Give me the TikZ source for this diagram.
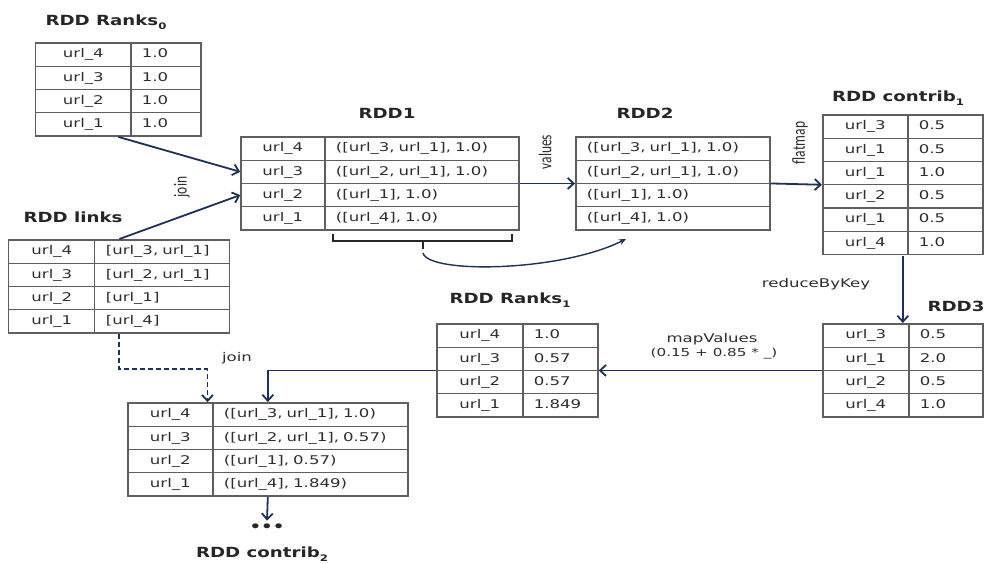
\documentclass[tikz,border=0pt]{standalone}
\usepackage{fontspec}
\setmainfont{DejaVu Sans}
\newfontfamily\cellfont[FakeStretch=1.38]{DejaVu Sans}
\newfontfamily\titlefont[FakeStretch=1.3]{DejaVu Sans}
\newfontfamily\oplabelfont{Carlito}
\usetikzlibrary{matrix,arrows.meta}
\definecolor{arrowblue}{RGB}{33,48,78}
\definecolor{gridgray}{RGB}{95,95,95}
\definecolor{celltext}{RGB}{45,45,45}
\newcommand{\rddsub}[1]{\raisebox{-0.5ex}{\fontsize{9}{9}\selectfont #1}}

\begin{document}
\begin{tikzpicture}[x=1pt, y=-1pt,
    rddcell/.style={draw=gridgray, line width=1.3pt, inner ysep=0pt,
        minimum height=23.3pt, text height=9.5pt, text depth=3pt,
        font=\cellfont\fontsize{12}{14}\selectfont, text=celltext},
    keycol/.style={nodes={text width=#1, align=center, inner xsep=0pt}},
    valcol/.style={nodes={text width=#1, align=left, inner xsep=11pt}},
    tbl/.style={matrix of nodes, nodes={rddcell}, inner sep=0pt,
        anchor=north west, row sep=-1.3pt, column sep=-1.3pt},
    tbltitle/.style={font=\titlefont\bfseries\fontsize{14}{16}\selectfont, text=black!85},
    oplabel/.style={font=\oplabelfont\fontsize{13.5}{15}\selectfont, text=celltext, rotate=90, yscale=1.35},
    opnote/.style={font=\cellfont\fontsize{12}{14}\selectfont, text=celltext},
    flow/.style={draw=arrowblue, line width=1.8pt, -{Straight Barb[length=6pt,width=11pt]}},
    bracket/.style={draw=black!85, line width=2.2pt}
]
    \useasboundingbox (0,0) rectangle (989,563);

    % tables
    \matrix (ranks0) [tbl, column 1/.style={keycol=95pt}, column 2/.style={valcol=48pt}] at (35,42) {
        url\_4 & 1.0 \\
        url\_3 & 1.0 \\
        url\_2 & 1.0 \\
        url\_1 & 1.0 \\
    };
    \matrix (links) [tbl, column 1/.style={keycol=86pt}, column 2/.style={valcol=113pt}] at (8,239) {
        url\_4 & {}[url\_3, url\_1] \\
        url\_3 & {}[url\_2, url\_1] \\
        url\_2 & {}[url\_1] \\
        url\_1 & {}[url\_4] \\
    };
    \matrix (rdd1) [tbl, column 1/.style={keycol=84pt}, column 2/.style={valcol=172pt}] at (240,136) {
        url\_4 & ([url\_3, url\_1], 1.0) \\
        url\_3 & ([url\_2, url\_1], 1.0) \\
        url\_2 & ([url\_1], 1.0) \\
        url\_1 & ([url\_4], 1.0) \\
    };
    \matrix (rdd2) [tbl, column 1/.style={valcol=172pt}] at (575,136) {
        ([url\_3, url\_1], 1.0) \\
        ([url\_2, url\_1], 1.0) \\
        ([url\_1], 1.0) \\
        ([url\_4], 1.0) \\
    };
    \matrix (contrib1) [tbl, column 1/.style={keycol=85pt}, column 2/.style={valcol=53pt}] at (822,114) {
        url\_3 & 0.5 \\
        url\_1 & 0.5 \\
        url\_1 & 1.0 \\
        url\_2 & 0.5 \\
        url\_1 & 0.5 \\
        url\_4 & 1.0 \\
    };
    \matrix (rdd3) [tbl, column 1/.style={keycol=86pt}, column 2/.style={valcol=52pt}] at (822,323) {
        url\_3 & 0.5 \\
        url\_1 & 2.0 \\
        url\_2 & 0.5 \\
        url\_4 & 1.0 \\
    };
    \matrix (ranks1) [tbl, column 1/.style={keycol=86pt}, column 2/.style={valcol=53pt}] at (436,323) {
        url\_4 & 1.0 \\
        url\_3 & 0.57 \\
        url\_2 & 0.57 \\
        url\_1 & 1.849 \\
    };
    \matrix (joined) [tbl, column 1/.style={keycol=85pt}, column 2/.style={valcol=173pt}] at (127,402) {
        url\_4 & ([url\_3, url\_1], 1.0) \\
        url\_3 & ([url\_2, url\_1], 0.57) \\
        url\_2 & ([url\_1], 0.57) \\
        url\_1 & ([url\_4], 1.849) \\
    };

    % titles
    \node[tbltitle] (ranks0title) at (106,22) {RDD Ranks\rddsub{0}};
    \node[tbltitle] (linkstitle) at (73,217) {RDD links};
    \node[tbltitle] (rdd1title) at (387,113) {RDD1};
    \node[tbltitle] (rdd2title) at (645,113) {RDD2};
    \node[tbltitle] (contrib1title) at (898,98) {RDD contrib\rddsub{1}};
    \node[tbltitle] (rdd3title) at (956,306) {RDD3};
    \node[tbltitle] (ranks1title) at (510,300) {RDD Ranks\rddsub{1}};
    \node[tbltitle] (contrib2title) at (262,554) {RDD contrib\rddsub{2}};

    % operation labels
    \node[oplabel] (joinop) at (182,187) {join};
    \node[oplabel] (valuesop) at (545,152) {values};
    \node[oplabel] (flatmapop) at (800,143) {flatmap};
    \node[opnote] (reduceop) at (816,284) {reduceByKey};
    \node[opnote] (mapop) at (712,339) {mapValues};
    \node[opnote, font=\cellfont\fontsize{11}{13}\selectfont] (mapfn) at (714,354) {(0.15 + 0.85 * \_)};
    \node[opnote] (join2op) at (237,358) {join};
    \node[font=\titlefont\bfseries\fontsize{14}{14}\selectfont, text=black!85] (more) at (267,528) {•••};

    % connectors
    \draw[flow] (ranks0.south) -- (rdd1-2-1.west);
    \draw[flow] (links.north) -- (rdd1-3-1.west);
    \draw[flow] (rdd1.east) -- (rdd2.west);
    \draw[flow] (rdd2.east) -- (contrib1.west);
    \draw[flow] (contrib1.south) -- (rdd3.north);
    \draw[flow] (rdd3.west) -- (ranks1.east);
    \draw[flow] (ranks1.west) -| (joined.north);
    \draw[flow, dash pattern=on 5pt off 3pt] (links.south) -- ++(0,35) -| ([xshift=-6pt]joined-1-1.north east);
    \draw[flow] (joined.south) -- (more.north);

    % bracket under RDD1 values
    \draw[bracket] (333,234) -- (333,241) -- (512,241) -- (512,234);
    \draw[bracket] (423,241) -- (423,249);
    \coordinate (bracetick) at (423,253);
    \coordinate (rdd2in) at (626,239);
    \draw[draw=arrowblue, line width=1.4pt, -{Stealth[length=7pt,width=6pt]}]
        (bracetick) .. controls (428,274) and (560,272) .. (rdd2in);
\end{tikzpicture}
\end{document}
